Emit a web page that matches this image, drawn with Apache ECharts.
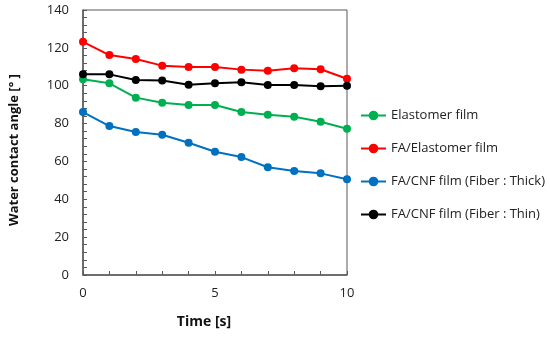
<!DOCTYPE html>
<html><head><meta charset="utf-8">
<script src="https://cdn.jsdelivr.net/npm/echarts@6/dist/echarts.min.js"></script>
<style>html,body{margin:0;padding:0;background:#fff}#c{width:550px;height:339px}</style>
</head><body><div id="c"></div>
<script>
const times = [0,1,2,3,4,5,6,7,8,9,10];
const seriesNames = ['Elastomer film','FA/Elastomer film','FA/CNF film (Fiber : Thick)','FA/CNF film (Fiber : Thin)'];
const elastomer = [103.4,101.3,93.7,91.0,89.8,89.8,86.1,84.7,83.6,81.0,77.3];
const faElastomer = [123.2,116.2,114.1,110.6,109.9,109.9,108.5,107.9,109.2,108.7,103.7];
const cnfThick = [86.1,78.7,75.5,74.1,69.9,65.1,62.3,56.9,54.9,53.7,50.6];
const cnfThin = [106.0,106.0,103.0,102.8,100.5,101.3,101.8,100.4,100.4,99.7,100.0];
const colors = ['#00b050','#ff0000','#0070c0','#000000'];
const allData = [elastomer, faElastomer, cnfThick, cnfThin];

const chart = echarts.init(document.getElementById('c'));
const font = '"Open Sans", "Noto Sans", sans-serif';
chart.setOption({
  animation:false,
  grid:{left:83,right:203,top:10,bottom:64,show:true,borderColor:'#595959',borderWidth:1},
  legend:{
    orient:'vertical',left:355,top:104,itemWidth:25,itemHeight:12,itemGap:20,
    textStyle:{fontFamily:font,fontSize:13,color:'#222'},
    data:seriesNames
  },
  xAxis:{
    type:'value',min:0,max:10,interval:5,
    axisLine:{lineStyle:{color:'#595959',width:1.5}},
    axisTick:{show:true,inside:true,length:4,lineStyle:{color:'#595959'}},
    minorTick:{show:true,splitNumber:5,length:4,lineStyle:{color:'#595959'}},
    splitLine:{show:false},
    axisLabel:{fontFamily:font,fontSize:13,color:'#222',margin:12},
    name:'Time [s]',nameLocation:'middle',nameGap:40,
    nameTextStyle:{fontFamily:font,fontSize:14,fontWeight:'bold',color:'#111',padding:[0,22,0,0]}
  },
  yAxis:{
    type:'value',min:0,max:140,interval:20,
    axisLine:{show:true,lineStyle:{color:'#595959',width:1.5}},
    axisTick:{show:true,inside:true,length:4,lineStyle:{color:'#595959'}},
    minorTick:{show:true,splitNumber:5,length:4,lineStyle:{color:'#595959'}},
    splitLine:{show:false},
    axisLabel:{fontFamily:font,fontSize:13,color:'#222',margin:14},
    name:'Water contact angle [° ]',nameLocation:'middle',nameGap:62,
    nameTextStyle:{fontFamily:font,fontSize:13,fontWeight:'bold',color:'#111',padding:[0,15,0,0]}
  },
  series: allData.map((d,i)=>({
    name:seriesNames[i],type:'line',
    data:times.map((t,j)=>[t,d[j]]),
    symbol:'circle',symbolSize:8,
    lineStyle:{color:colors[i],width:2},
    itemStyle:{color:colors[i]}
  }))
});
</script></body></html>
